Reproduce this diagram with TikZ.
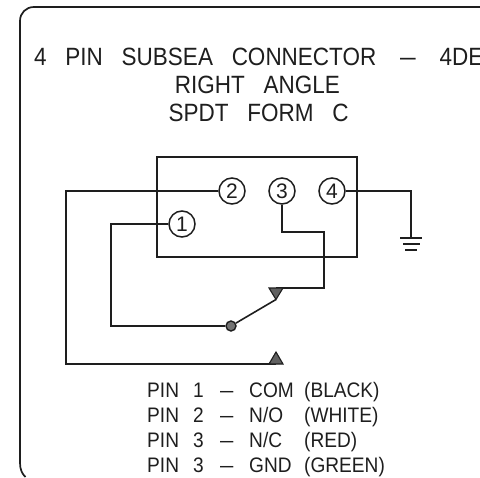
\documentclass[tikz,border=0pt]{standalone}
\usepackage{fontspec}
\usepackage{graphicx}
\setmainfont{Liberation Sans}
\newfontfamily\ttlfont{Liberation Sans}[FakeStretch=0.9,WordSpace=3]
\newfontfamily\legfont{Liberation Sans}[FakeStretch=0.91,WordSpace=3]
\definecolor{ink}{HTML}{1E1E1E}
\newcommand{\longdash}{\scalebox{1.25}[1]{–}}
\newcommand{\legline}[3]{\makebox[46bp][l]{PIN}\makebox[27bp][l]{#1}\makebox[29bp][l]{\longdash}\makebox[55bp][l]{#2}#3}
\tikzset{
  wire/.style={draw=ink,line width=1.6bp,line join=miter},
  frame/.style={draw=ink,line width=1.7bp},
  pin/.style={circle,draw=ink,line width=1.5bp,minimum size=26bp,inner sep=0pt,font=\fontsize{21bp}{21bp}\selectfont,text=ink,fill=white},
  tri/.style={draw=ink,line width=1.1bp,fill=black!62,line join=miter},
  title/.style={font=\ttlfont\fontsize{25bp}{25bp}\selectfont,text=ink,anchor=base,inner sep=0pt},
  legend/.style={font=\legfont\fontsize{21bp}{21bp}\selectfont,text=ink,anchor=base west,inner sep=0pt},
  pivot/.style={circle,draw=ink,line width=1.4bp,fill=black!55,minimum size=10bp,inner sep=0pt},
  gnd/.style={draw=ink,line width=1.6bp}
}
\begin{document}
\begin{tikzpicture}[x=1bp,y=-1bp]
\useasboundingbox (0,0) rectangle (480,478);
\clip (0,0) rectangle (480,478);
\draw[frame] (480,7) -- (34,7) .. controls (26,7) and (20,13) .. (20,21) -- (20,463) .. controls (20,469) and (22,474) .. (25.5,477);
\node[title,anchor=base west] (t1) at (34,66) {4 PIN SUBSEA CONNECTOR\hspace{5bp} \longdash\hspace{5bp} 4DE};
\node[title] (t2) at (257.5,94) {RIGHT ANGLE};
\node[title] (t3) at (258.5,122) {SPDT FORM C};
\draw[wire] (157,157) rectangle (357,257);
\node[pin] (p2) at (232,191) {2};
\node[pin] (p1) at (182,224) {1};
\node[pin] (p3) at (282,191) {3};
\node[pin] (p4) at (332,191) {4};
\node[pivot] (piv) at (231,326) {};
\coordinate (no) at (276,364);
\coordinate (nc) at (276,288);
\coordinate (tip) at (276,299.5);
\coordinate (gt) at (411,238);
\draw[wire] (p2.west) -- (66,191) -- (66,364) -- (no);
\draw[wire] (p1.west) -- (111,224) -- (111,326) -- (piv.west);
\draw[wire] (p3.south) -- (282,232) -- (324,232) -- (324,288) -- (nc);
\draw[wire] (p4.east) -- (411,191) -- (gt);
\draw[wire] (piv) -- (tip);
\draw[tri] (269,288) -- (283,288) -- (tip) -- cycle;
\draw[tri] (269,364) -- (283,364) -- (276,352) -- cycle;
\draw[gnd] (400,238) -- (422,238);
\draw[gnd] (403,244) -- (420,244);
\draw[gnd] (405,250) -- (417,250);
\node[legend] (l1) at (147,397) {\legline{1}{COM}{(BLACK)}};
\node[legend] (l2) at (147,422) {\legline{2}{N/O}{(WHITE)}};
\node[legend] (l3) at (147,447) {\legline{3}{N/C}{(RED)}};
\node[legend] (l4) at (147,472) {\legline{3}{GND}{(GREEN)}};
\end{tikzpicture}
\end{document}
